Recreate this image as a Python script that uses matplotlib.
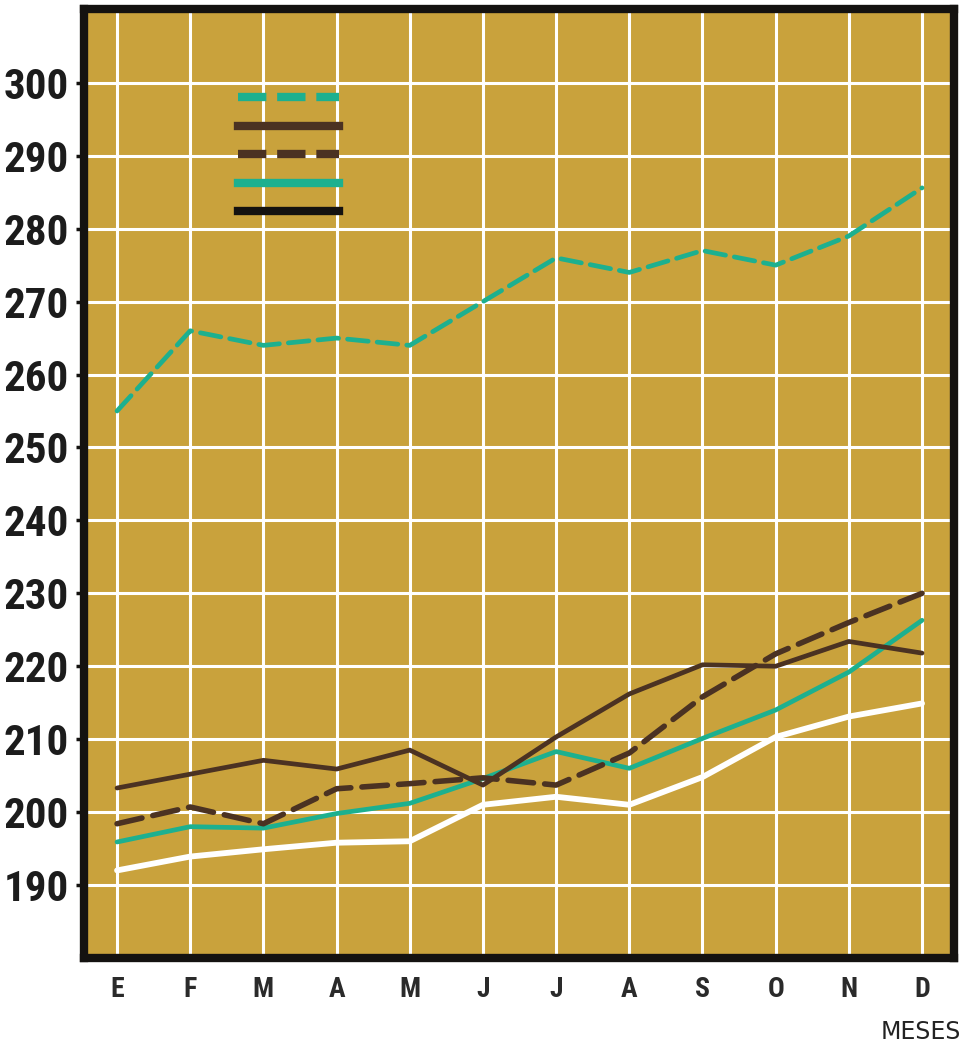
import matplotlib
matplotlib.use("Agg")
import matplotlib.pyplot as plt
from matplotlib.lines import Line2D
from matplotlib import font_manager

# Data
months = ["E", "F", "M", "A", "M", "J", "J", "A", "S", "O", "N", "D"]
yticks = [190, 200, 210, 220, 230, 240, 250, 260, 270, 280, 290, 300]

teal_dashed = [255, 266, 264, 265, 264, 270, 276, 274, 277, 275, 279, 285.6]
brown_solid = [203.3, 205.2, 207.1, 205.9, 208.5, 203.7, 210.3, 216.2, 220.2, 220.0, 223.4, 221.8]
brown_dashed = [198.4, 200.7, 198.4, 203.2, 203.9, 204.7, 203.7, 208.1, 215.8, 221.7, 226.0, 230.0]
teal_solid = [195.9, 198.0, 197.8, 199.8, 201.2, 204.6, 208.3, 206.0, 210.1, 214.0, 219.2, 226.3]
white_solid = [192.0, 193.9, 194.9, 195.8, 196.0, 201.0, 202.1, 201.0, 204.8, 210.3, 213.1, 214.9]

BG = "#C9A23C"
TEAL = "#1DB08F"
BROWN = "#4B3222"
BLACK = "#141210"


def narrow_bold():
    # look for a condensed / narrow bold face among installed fonts
    fonts = font_manager.fontManager.ttflist
    def is_bold(f):
        return f.weight in ("bold", 700, "heavy", 800, "black", 900) or \
            (isinstance(f.weight, int) and f.weight >= 700)
    def is_narrow(f):
        return ("Narrow" in f.name or "Condensed" in f.name or
                f.stretch in ("condensed", "semi-condensed", "extra-condensed",
                              "ultra-condensed") or
                "Narrow" in f.fname or "Condensed" in f.fname)
    for pref in ("Liberation Sans Narrow", "Roboto Condensed", "Open Sans Condensed",
                 "DejaVu Sans"):
        for f in fonts:
            if f.name.startswith(pref) and is_narrow(f) and is_bold(f) \
                    and f.style == "normal":
                return f.fname
    for f in fonts:
        if is_narrow(f) and is_bold(f) and f.style == "normal":
            return f.fname
    return None


nb = narrow_bold()

fig = plt.figure(figsize=(9.66, 10.46), dpi=100)
ax = fig.add_axes([0.087, 0.0842, 0.9006, 0.907])
ax.set_facecolor(BG)

x = list(range(len(months)))

ax.plot(x, white_solid, color="white", lw=4.2, solid_capstyle="round", zorder=3)
ax.plot(x, teal_solid, color=TEAL, lw=3.4, solid_capstyle="round", zorder=4)
ax.plot(x, brown_dashed, color=BROWN, lw=4.0, dashes=(4.6, 2.0),
        dash_capstyle="round", zorder=5)
ax.plot(x, brown_solid, color=BROWN, lw=3.4, solid_capstyle="round", zorder=5)
ax.plot(x, teal_dashed, color=TEAL, lw=3.4, dashes=(4.4, 1.9),
        dash_capstyle="round", zorder=5)

# legend swatches (labels were not printed)
handles = [
    Line2D([], [], color=TEAL, lw=6, dashes=(3.4, 1.3)),
    Line2D([], [], color=BROWN, lw=6),
    Line2D([], [], color=BROWN, lw=6, dashes=(3.4, 1.3)),
    Line2D([], [], color=TEAL, lw=6),
    Line2D([], [], color=BLACK, lw=6),
]
ax.legend(handles, [""] * 5, loc="upper left", bbox_to_anchor=(0.177, 0.914),
          frameon=False, handlelength=7.3, handletextpad=0, labelspacing=1.05,
          borderpad=0, borderaxespad=0, prop={"size": 10})

ax.set_xlim(-0.451, 11.437)
ax.set_ylim(180.0, 310.1)
ax.set_xticks(x)
ax.set_xticklabels(months)
ax.set_yticks(yticks)
ax.set_yticklabels([str(v) for v in yticks])

ax.grid(True, color="white", lw=2.2)
ax.set_axisbelow(True)

for s in ax.spines.values():
    s.set_color(BLACK)
    s.set_linewidth(6)

ax.tick_params(axis="y", length=6, width=2.5, color=BLACK, pad=5)
ax.tick_params(axis="x", length=0, pad=13)

if nb:
    yfont = font_manager.FontProperties(fname=nb, size=31)
    xfont = font_manager.FontProperties(fname=nb, size=20)
else:
    yfont = font_manager.FontProperties(family="DejaVu Sans", weight="bold", size=20)
    xfont = font_manager.FontProperties(family="DejaVu Sans", weight="bold", size=14)

for t in ax.get_yticklabels():
    t.set_fontproperties(yfont)
    t.set_color("#1c1c1c")
for t in ax.get_xticklabels():
    t.set_fontproperties(xfont)
    t.set_color("#2a2a2a")

fig.text(0.995, 0.002, "MESES", ha="right", va="bottom", fontsize=17,
         color="#222222", family="DejaVu Sans")

fig.savefig("out.png", dpi=100)
